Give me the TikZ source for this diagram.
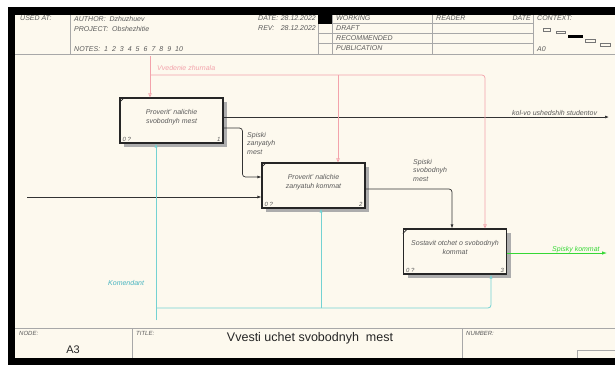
\documentclass[tikz,border=0pt]{standalone}
\usepackage{fontspec}
\setmainfont{Liberation Sans}
\usetikzlibrary{arrows.meta,shadows}
\definecolor{cream}{HTML}{FDF9EE}
\definecolor{framegray}{HTML}{A8A8A8}
\definecolor{txtgray}{HTML}{5A5A5A}
\definecolor{pinkc}{HTML}{F3A3AB}
\definecolor{cyanc}{HTML}{74D2D2}
\definecolor{cyantxt}{HTML}{48B4C0}
\definecolor{greenc}{HTML}{35D835}
\tikzset{
  hdr/.style={font=\fontsize{7}{8.5}\selectfont\itshape, text=txtgray, anchor=west, inner sep=0pt},
  hdrsm/.style={font=\fontsize{6}{7}\selectfont\itshape, text=txtgray, anchor=west, inner sep=0pt},
  lbl/.style={font=\fontsize{7}{8.5}\selectfont\itshape, text=txtgray, inner sep=0pt, align=left},
  fnbox/.style={draw=black!85, line width=1.1pt, fill=cream, minimum width=103pt, minimum height=45pt,
    inner sep=0pt, drop shadow={shadow xshift=4pt, shadow yshift=-4pt, fill=black!32, opacity=1}},
  boxtxt/.style={align=center, font=\fontsize{7}{8.7}\selectfont\itshape, text=txtgray, inner sep=0pt},
  cornerlbl/.style={font=\fontsize{6}{7}\selectfont\itshape, text=txtgray, inner sep=0pt},
  frameline/.style={draw=framegray, line width=0.6pt},
  flow/.style={draw=black!80, line width=0.7pt, rounded corners=3pt, -{Latex[length=4pt,width=3pt]}},
  ctrl/.style={draw=pinkc, line width=0.7pt, rounded corners=3pt, -{Triangle[open,length=4pt,width=3.5pt]}},
  mech/.style={draw=cyanc, line width=0.8pt, rounded corners=3pt, -{Latex[length=4pt,width=3pt]}},
  outg/.style={draw=greenc, line width=0.8pt, -{Latex[length=5pt,width=3.5pt]}},
}
\begin{document}
\begin{tikzpicture}[x=1pt,y=-1pt]
\useasboundingbox (0,0) rectangle (615,365);
\fill[white] (0,0) rectangle (615,365);
% frame
\fill[cream] (15,15) rectangle (615,358);
\fill[black] (8,7) rectangle (615,15);
\fill[black] (8,7) rectangle (15,365);
\fill[black] (8,358) rectangle (615,365);
% header lines
\draw[frameline] (15,54.5) -- (615,54.5);
\draw[frameline] (70,15) -- (70,54.5);
\foreach \xx in {318,332,432,533} {\draw[frameline] (\xx,15) -- (\xx,54.5);}
\foreach \yy in {23.5,33.5,43.5} {\draw[frameline] (318,\yy) -- (533,\yy);}
\fill[black] (318,15) rectangle (332,23.5);
% context icon
\draw[framegray!70!black, line width=0.5pt] (543,28) rectangle (550,31);
\draw[framegray!70!black, line width=0.5pt] (556,31.5) rectangle (565,33.5);
\fill[black] (568,35) rectangle (583,37.5);
\draw[framegray!70!black, line width=0.5pt] (585,39) rectangle (595,42);
\draw[framegray!70!black, line width=0.5pt] (600,43) rectangle (610,46);
% header texts
\node[hdr] (usedat) at (20,18.5) {USED AT:};
\node[hdr] (author) at (74,18.5) {AUTHOR:\ \ Dzhuzhuev};
\node[hdr] (project) at (74,28.5) {PROJECT:\ \ Obshezhitie};
\node[hdr] (notes) at (74,49) {NOTES:\ \ 1\hspace{4pt}2\hspace{4pt}3\hspace{4pt}4\hspace{4pt}5\hspace{4pt}6\hspace{4pt}7\hspace{4pt}8\hspace{4pt}9\hspace{4pt}10};
\node[hdr] (datel) at (258,18.5) {DATE:};
\node[hdr,anchor=east] (datev) at (316,18.5) {28.12.2022};
\node[hdr] (revl) at (258,28.5) {REV:};
\node[hdr,anchor=east] (revv) at (316,28.5) {28.12.2022};
\node[hdr] (working) at (336,18.5) {WORKING};
\node[hdr] (draft) at (336,28.5) {DRAFT};
\node[hdr] (recom) at (336,38.5) {RECOMMENDED};
\node[hdr] (publ) at (336,48.5) {PUBLICATION};
\node[hdr] (reader) at (436,18.5) {READER};
\node[hdr,anchor=east] (rdate) at (531,18.5) {DATE};
\node[hdr] (context) at (537,18.5) {CONTEXT:};
\node[hdr] (azero) at (537,49) {A0};
% footer
\draw[frameline] (15,328) -- (615,328);
\draw[frameline] (132,328) -- (132,358);
\draw[frameline] (462,328) -- (462,358);
\draw[frameline] (577,358) -- (577,350) -- (615,350);
\node[hdrsm] (nodel) at (19,333) {NODE:};
\node[font=\fontsize{11}{13}\selectfont, text=black!85, inner sep=0pt] (athree) at (73,350) {A3};
\node[hdrsm] (titlel) at (136,333) {TITLE:};
\node[font=\fontsize{12.5}{15}\selectfont, text=black!85, inner sep=0pt] (title) at (310,338) {Vvesti uchet svobodnyh\ \ mest};
\node[hdrsm] (numberl) at (466,333) {NUMBER:};
% boxes
\node[fnbox] (b1) at (171.5,120.5) {};
\node[fnbox] (b2) at (313.5,185.5) {};
\node[fnbox] (b3) at (455,251.5) {};
\node[boxtxt] (b1t) at ([yshift=3pt]b1.center) {Proverit' nalichie\\svobodnyh mest};
\node[boxtxt] (b2t) at ([yshift=3pt]b2.center) {Proverit' nalichie\\zanyatuh kommat};
\node[boxtxt] (b3t) at ([yshift=4pt]b3.center) {Sostavit otchet o svobodnyh\\kommat};
\foreach \b/\n in {b1/1,b2/2,b3/3} {
  \draw[black!85, line width=0.8pt] ([yshift=-5pt]\b.north west) -- ([xshift=5pt]\b.north west);
  \node[cornerlbl, anchor=west] (\b q) at ([xshift=3pt,yshift=4.5pt]\b.south west) {0 ?};
  \node[cornerlbl, anchor=east] (\b n) at ([xshift=-3pt,yshift=4.5pt]\b.south east) {\n};
}
% coordinates
\coordinate (kolend) at (609,117);
\coordinate (inL) at (27,197);
\coordinate (spend) at (607,253);
\coordinate (vz) at (150,56);
\coordinate (vzj) at (150,75);
\coordinate (vzk) at (338,75);
\coordinate (km) at (156,320);
\coordinate (kmj) at (156,308);
\coordinate (kmk) at (321,308);
% connectors
\draw[flow] ([yshift=3.5pt]b1.east) -- ([yshift=3.5pt]b1.east -| kolend);
\draw[flow] ([yshift=-7.5pt]b1.east) -| ([xshift=-19pt,yshift=8.5pt]b2.west) -- ([yshift=8.5pt]b2.west);
\draw[flow] (inL) -- (inL -| b2.west);
\draw[flow] ([yshift=-3.5pt]b2.east) -| ([xshift=-3pt]b3.north);
\draw[outg] ([yshift=-1.5pt]b3.east) -- ([yshift=-1.5pt]b3.east -| spend);
\draw[ctrl] (vz) -- (vz |- b1.north);
\draw[ctrl] (vzj) -| ([xshift=30pt]b3.north);
\draw[ctrl] (vzk) -- (vzk |- b2.north);
\draw[mech] (km) -- (km |- b1.south);
\draw[mech] (kmj) -| ([xshift=36pt]b3.south);
\draw[mech] (kmk) -- (kmk |- b2.south);
% labels
\node[lbl, text=pinkc, anchor=west] (lvz) at (157,68) {Vvedenie zhurnala};
\node[lbl, anchor=west] (lkol) at (512,113) {kol-vo ushedshih studentov};
\node[lbl, anchor=north west] (lsz) at (247,132) {Spiski\\zanyatyh\\mest};
\node[lbl, anchor=north west] (lss) at (413,159) {Spiski\\svobodnyh\\mest};
\node[lbl, text=greenc, anchor=west] (lsk) at (552,250) {Spisky kommat};
\node[lbl, text=cyantxt, anchor=west] (lkom) at (108,283) {Komendant};
\end{tikzpicture}
\end{document}
